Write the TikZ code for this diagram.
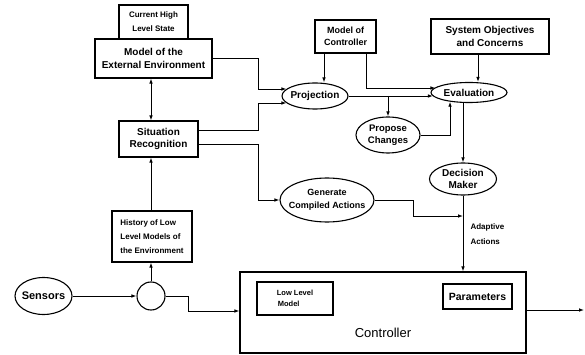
\documentclass[tikz,border=0pt]{standalone}
\usepackage{fontspec}
\setmainfont{Liberation Sans}
\usetikzlibrary{shapes.geometric,arrows.meta}
\tikzset{
  box/.style={draw, line width=1.1pt, inner sep=0pt, align=center},
  oval/.style={draw, ellipse, line width=1.1pt, inner sep=0pt},
  lbl/.style={font=\bfseries\fontsize{10}{12.5}\selectfont},
  sml/.style={font=\bfseries\fontsize{8}{14}\selectfont},
  conn/.style={line width=0.9pt},
  arr/.style={conn, -{Latex[length=5pt,width=3.6pt]}},
  darr/.style={conn, {Latex[length=5pt,width=3.6pt]}-{Latex[length=5pt,width=3.6pt]}},
}
\begin{document}
\begin{tikzpicture}[x=1pt,y=-1pt]
\useasboundingbox (0,0) rectangle (585,355);
% boxes
\node[box, sml, minimum width=69pt, minimum height=34pt] (chls) at (153.5,22) {Current High\\Level State};
\node[box, lbl, minimum width=117pt, minimum height=39pt, fill=white] (mee) at (153.5,58.5) {Model of the\\External Environment};
\node[box, lbl, minimum width=79pt, minimum height=36pt] (sr) at (158.5,139) {Situation\\Recognition};
\node[box, sml, minimum width=80pt, minimum height=51pt, align=left] (hist) at (152,236.5) {History of Low\\Level Models of\\the Environment};
\node[draw, circle, line width=1.1pt, minimum size=28pt, inner sep=0pt] (circ) at (151,296) {};
\node[oval, minimum width=57pt, minimum height=37pt, label={[font=\bfseries\fontsize{11}{13}\selectfont]center:Sensors}] (sens) at (43.5,296) {};
\node[box, minimum width=286pt, minimum height=81pt] (ctrl) at (383,312.5) {};
\node[box, minimum width=76pt, minimum height=33pt, align=left, font=\bfseries\fontsize{7.5}{11}\selectfont] (llm) at (295,298.5) {Low Level\\\hspace*{1pt}Model};
\node[box, minimum width=69pt, minimum height=25pt, font=\bfseries\fontsize{10.5}{12}\selectfont] (par) at (477.5,296.5) {Parameters};
\node[font=\fontsize{13}{15}\selectfont] (ctxt) at (383,333) {Controller};
\node[box, minimum width=61pt, minimum height=33pt, font=\bfseries\fontsize{9}{12}\selectfont] (moc) at (345.5,36.5) {Model of\\Controller};
\node[box, lbl, minimum width=118pt, minimum height=35pt] (soc) at (490,36.5) {System Objectives\\and Concerns};
% ovals
\node[oval, minimum width=66pt, minimum height=26pt, label={[lbl]center:Projection}] (proj) at (315,96) {};
\node[oval, minimum width=76pt, minimum height=20pt, label={[lbl]center:Evaluation}] (eval) at (469,92.5) {};
\node[oval, minimum width=64pt, minimum height=36pt, label={[lbl, align=center, font=\bfseries\fontsize{9.5}{12.5}\selectfont]center:Propose\\Changes}] (prop) at (388,135) {};
\node[oval, minimum width=67pt, minimum height=32pt, label={[lbl, align=center]center:Decision\\Maker}] (dm) at (463,179) {};
\node[oval, minimum width=94pt, minimum height=44pt, label={[align=center, font=\bfseries\fontsize{9}{12.5}\selectfont]center:Generate\\Compiled Actions}] (gca) at (327,200) {};
\node[align=left, anchor=west, font=\bfseries\fontsize{8}{15}\selectfont] (aa) at (467,234.5) {Adaptive\\Actions};
\coordinate (aj) at (463,216);
\coordinate (out) at (584,310);
% connectors
\draw[darr] (circ.north |- sr.north) -- (circ.north |- mee.south);
\draw[arr] (circ.north |- hist.north) -- (circ.north |- sr.south);
\draw[arr] (circ.north) -- (circ.north |- hist.south);
\draw[arr] (sens.east) -- (circ.west);
\draw[arr] (circ.east) -- ++(23,0) |- ([yshift=1.5pt]ctrl.west);
\draw[arr] (mee.east) -- ++(46,0) |- ([xshift=5pt,yshift=7pt]proj.west);
\draw[arr] ([yshift=9pt]sr.east) -- ++(60,0) |- ([xshift=5pt,yshift=-7pt]proj.west);
\draw[arr] ([yshift=-5pt]sr.east) -- ++(60,0) |- (gca.west);
\draw[arr] ([xshift=-21.5pt]moc.south) -- ([xshift=9pt]proj.north);
\draw[arr] ([xshift=-10pt]moc.south east) |- ([xshift=5pt,yshift=4.5pt]eval.west);
\draw[arr] (proj.east) -- ([xshift=2.5pt]proj.east -| eval.west);
\draw[arr] (proj.east -| prop.north) -- (prop.north);
\draw[arr] (prop.east) -| ([xshift=-19pt,yshift=1.3pt]eval.south);
\draw[arr] ([xshift=-12pt]soc.south) -- ([xshift=9pt]eval.north);
\draw[arr] ([xshift=-6pt]eval.south) -- (dm.north);
\draw[arr] (gca.east) -- ++(39,0) |- (aj);
\draw[arr] (dm.south) -- (dm.south |- ctrl.north);
\draw[arr] ([yshift=2.5pt]ctrl.east) -- (out);
\end{tikzpicture}
\end{document}
